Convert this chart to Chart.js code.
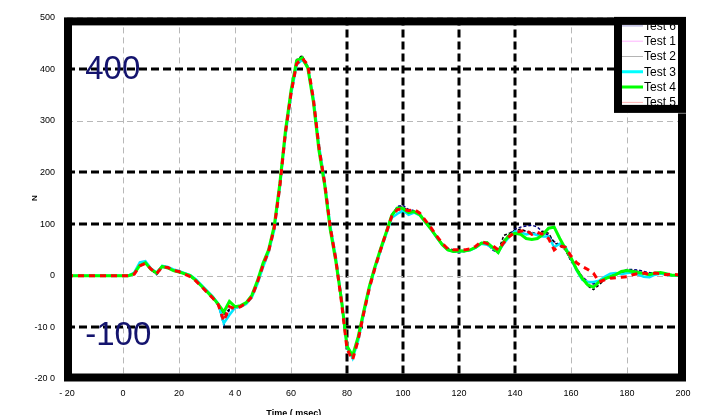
<!DOCTYPE html>
<html>
<head>
<meta charset="utf-8">
<title>Force vs time, tests 1-6</title>
<script src="https://cdn.jsdelivr.net/npm/chart.js@4.4.1/dist/chart.umd.min.js"></script>
<style>
  html, body { margin: 0; padding: 0; background: #fff; }
  #wrap { width: 702px; height: 415px; }
</style>
</head>
<body>
<div id="wrap"><canvas id="myChart" width="702" height="415"></canvas></div>
<script>
// sample times (msec)
const timeMs = [
  -20, 0, 2, 4, 6, 8, 10, 12, 14, 16,
  18, 20, 22, 24, 26, 28, 30, 32, 34, 36,
  38, 40, 42, 44, 46, 48, 50, 52, 54, 56,
  58, 60, 62, 64, 66, 68, 70, 72, 74, 76,
  78, 80, 82, 84, 86, 88, 90, 92, 94, 96,
  98, 100, 102, 104, 106, 108, 110, 112, 114, 116,
  118, 120, 122, 124, 126, 128, 130, 132, 134, 136,
  138, 140, 142, 144, 146, 148, 150, 152, 154, 156,
  158, 160, 162, 164, 166, 168, 170, 172, 174, 176,
  178, 180, 182, 184, 186, 188, 190, 192, 194, 196,
  198, 200
];

// force (N) per test
const test6 = [
  0, 0, 0, 5, 22, 26, 12, 2, 16, 16,
  10, 7, 3, -1, -9, -20, -31, -42, -56, -96,
  -66, -62, -58, -52, -40, -14, 18, 48, 94, 176,
  278, 354, 414, 424, 406, 338, 244, 176, 92, 28,
  -48, -140, -156, -118, -70, -22, 16, 50, 82, 118,
  134, 136, 128, 126, 120, 106, 92, 76, 62, 52,
  46, 45, 47, 50, 56, 64, 62, 50, 44, 68,
  80, 90, 94, 96, 98, 94, 84, 78, 66, 60,
  50, 30, 14, -2, -12, -16, -12, -6, -1, 3,
  7, 12, 12, 11, 8, 6, 5, 4, 3, 1,
  0, 0
];
const test1 = [
  0, 0, 0, 4, 20, 24, 12, 4, 17, 15,
  10, 7, 3, -1, -9, -20, -31, -42, -55, -72,
  -60, -61, -59, -53, -40, -13, 19, 48, 92, 175,
  276, 355, 413, 422, 404, 340, 246, 178, 93, 30,
  -47, -139, -157, -121, -71, -22, 16, 50, 82, 116,
  129, 130, 124, 125, 119, 105, 91, 76, 62, 52,
  49, 49, 49, 50, 55, 64, 63, 55, 48, 66,
  78, 86, 87, 85, 82, 82, 82, 79, 64, 60,
  52, 31, 15, 0, -10, -17, -14, -7, -3, 1,
  5, 8, 8, 6, 3, 3, 4, 4, 3, 1,
  1, 0
];
const test2 = [
  0, 0, 0, 4, 21, 25, 12, 3, 17, 16,
  10, 7, 3, -1, -10, -21, -32, -44, -57, -75,
  -65, -63, -60, -54, -40, -14, 18, 47, 90, 174,
  274, 356, 418, 426, 404, 340, 246, 178, 94, 30,
  -48, -140, -158, -122, -70, -22, 16, 50, 82, 116,
  132, 133, 125, 124, 119, 105, 92, 76, 62, 53,
  50, 49, 48, 49, 56, 64, 64, 54, 47, 78,
  82, 88, 90, 86, 84, 80, 86, 82, 64, 58,
  50, 28, 14, -4, -20, -27, -18, -8, -3, 1,
  6, 9, 10, 8, 4, 3, 4, 5, 3, 2,
  1, 0
];
const test3 = [
  0, 0, 0, 6, 26, 28, 14, 6, 19, 17,
  12, 9, 5, 1, -7, -18, -29, -40, -54, -92,
  -76, -62, -60, -55, -42, -16, 16, 45, 88, 170,
  270, 350, 408, 418, 404, 345, 252, 184, 98, 36,
  -44, -138, -160, -126, -74, -25, 14, 48, 80, 112,
  120, 126, 118, 122, 117, 103, 90, 74, 60, 50,
  47, 47, 48, 49, 54, 62, 60, 53, 46, 62,
  76, 86, 84, 80, 82, 78, 76, 76, 55, 62,
  56, 33, 10, -8, -12, -12, -10, -2, 4, 5,
  3, 5, 6, 2, -2, -3, 2, 4, 2, 1,
  0, 0
];
const test4 = [
  0, 0, 0, 4, 20, 25, 12, 5, 18, 15,
  10, 7, 4, 0, -9, -20, -31, -42, -55, -70,
  -50, -60, -58, -52, -38, -10, 24, 50, 96, 178,
  280, 358, 416, 422, 402, 336, 242, 176, 90, 28,
  -46, -136, -155, -118, -68, -20, 18, 52, 84, 117,
  131, 130, 122, 124, 118, 104, 90, 75, 60, 50,
  47, 48, 48, 50, 55, 63, 64, 55, 45, 66,
  78, 82, 80, 72, 70, 72, 80, 92, 94, 72,
  52, 35, 12, -5, -18, -22, -12, -6, -2, 2,
  8, 10, 8, 6, 4, 2, 5, 6, 4, 1,
  1, 0
];
const test5 = [
  0, 0, 0, 3, 19, 24, 13, 4, 17, 16,
  10, 8, 3, -2, -10, -21, -32, -43, -56, -88,
  -60, -64, -60, -53, -41, -13, 20, 47, 92, 172,
  276, 352, 410, 421, 408, 342, 248, 180, 95, 32,
  -50, -142, -163, -124, -72, -24, 15, 50, 83, 115,
  128, 129, 126, 128, 121, 107, 93, 77, 63, 52,
  50, 50, 50, 52, 57, 66, 62, 58, 50, 64,
  76, 84, 86, 88, 80, 84, 80, 72, 50, 58,
  55, 38, 25, 18, 12, 5, -12, -8, -5, -4,
  -3, -2, 2, 4, 5, 3, 5, 4, 2, 3,
  2, 1
];

// axis ticks and their printed labels
const xTicks = [-20, 0, 20, 40, 60, 80, 100, 120, 140, 160, 180, 200];
const xTickText = ['- 20', '0', '20', '4 0', '60', '80', '100', '120', '140', '160', '180', '200'];
const yTicks = [-200, -100, 0, 100, 200, 300, 400, 500];
const yTickText = ['-20 0', '-10 0', '0', '100', '200', '300', '400', '500'];

// heavy dashed reference lines
const boldX = [80, 100, 120, 140];
const boldY = [-100, 100, 200, 400];

// large marker labels
const bigLabels = ['400', '-100'];
const bigLabelAt = [400, -100];

const FONT = "'Liberation Sans', Arial, sans-serif";

const series = [
  { label: 'Test 6', values: test6, color: '#000080', width: 1.5, dash: [3, 2], legendColor: '#9c9cd0', legendWidth: 1, order: 4 },
  { label: 'Test 1', values: test1, color: '#ff80ff', width: 1, dash: [], legendColor: '#ffb4ff', legendWidth: 1, order: 5 },
  { label: 'Test 2', values: test2, color: '#000000', width: 1.5, dash: [3, 2], legendColor: '#b4b4b4', legendWidth: 1, order: 3 },
  { label: 'Test 3', values: test3, color: '#00e8ff', width: 2.5, dash: [], legendColor: '#00ffff', legendWidth: 3, order: 2 },
  { label: 'Test 4', values: test4, color: '#00ff00', width: 3, dash: [], legendColor: '#00ff00', legendWidth: 3, order: 1 },
  { label: 'Test 5', values: test5, color: '#ff0000', width: 3, dash: [6, 5], legendColor: '#ffb4b4', legendWidth: 1, order: 0 },
];

// dashed grid, thin grey plus heavy black ones
const gridLines = {
  id: 'gridLines',
  beforeDatasetsDraw(chart) {
    const { ctx, chartArea: a, scales: { x, y } } = chart;
    ctx.save();
    const line = (x1, y1, x2, y2, bold) => {
      ctx.beginPath();
      ctx.strokeStyle = bold ? '#000' : '#b8b8b8';
      ctx.lineWidth = bold ? 3 : 1;
      ctx.setLineDash(bold ? [8, 4] : [6, 4]);
      ctx.moveTo(x1, y1);
      ctx.lineTo(x2, y2);
      ctx.stroke();
    };
    xTicks.forEach(v => {
      const bold = boldX.includes(v);
      const px = Math.round(x.getPixelForValue(v)) + (bold ? 0 : 0.5);
      line(px, a.top, px, a.bottom, bold);
    });
    yTicks.forEach(v => {
      const bold = boldY.includes(v);
      const py = Math.round(y.getPixelForValue(v)) + (bold ? 0 : 0.5);
      line(a.left, py, a.right, py, bold);
    });

    // big navy numbers at the left edge
    ctx.setLineDash([]);
    ctx.fillStyle = '#14146e';
    ctx.font = '33px ' + FONT;
    ctx.textAlign = 'left';
    ctx.textBaseline = 'alphabetic';
    bigLabels.forEach((txt, i) => {
      const py = y.getPixelForValue(bigLabelAt[i]);
      ctx.fillText(txt, x.getPixelForValue(-13.5), py + (bigLabelAt[i] > 0 ? 10 : 18));
    });
    ctx.restore();
  }
};

// thick frame round the plot, x title, boxed legend
const frameAndLegend = {
  id: 'frameAndLegend',
  afterDraw(chart) {
    const { ctx, chartArea: a, scales: { x } } = chart;
    ctx.save();
    ctx.setLineDash([]);
    ctx.strokeStyle = '#000';
    ctx.lineWidth = 8;
    ctx.strokeRect(a.left + 1, a.top + 4, a.right - a.left - 2, a.bottom - a.top - 5.5);

    ctx.fillStyle = '#000';
    ctx.font = 'bold 9px ' + FONT;
    ctx.textAlign = 'center';
    ctx.textBaseline = 'alphabetic';
    ctx.fillText('Time ( msec)', x.getPixelForValue(61), 416);

    // legend box
    const bx = a.right - 69, by = a.top, bw = 72, bh = 96;
    ctx.fillStyle = '#fff';
    ctx.fillRect(bx, by, bw, bh);
    ctx.save();
    ctx.beginPath();
    ctx.rect(bx + 8, by + 7, bw - 16, bh - 15);
    ctx.clip();
    ctx.font = '12px ' + FONT;
    ctx.textAlign = 'left';
    ctx.textBaseline = 'middle';
    series.forEach((s, i) => {
      const ly = by + 8.5 + i * 15.3;
      ctx.beginPath();
      ctx.strokeStyle = s.legendColor;
      ctx.lineWidth = s.legendWidth;
      ctx.moveTo(bx + 8, ly);
      ctx.lineTo(bx + 29, ly);
      ctx.stroke();
      ctx.fillStyle = '#000';
      ctx.fillText(s.label, bx + 30, ly + 0.5);
    });
    ctx.restore();
    ctx.lineWidth = 8;
    ctx.strokeStyle = '#000';
    ctx.strokeRect(bx + 4, by + 3.5, bw - 8, bh - 8);
    ctx.restore();
  }
};

new Chart(document.getElementById('myChart'), {
  type: 'line',
  data: {
    datasets: series.map(s => ({
      label: s.label,
      data: timeMs.map((t, i) => ({ x: t, y: s.values[i] })),
      borderColor: s.color,
      borderWidth: s.width,
      borderDash: s.dash,
      pointRadius: 0,
      tension: 0,
      fill: false,
      order: s.order,
    })),
  },
  options: {
    responsive: false,
    animation: false,
    devicePixelRatio: 1,
    layout: { autoPadding: false, padding: { top: 14, right: 19, left: 0, bottom: 0 } },
    plugins: { legend: { display: false }, tooltip: { enabled: false } },
    scales: {
      x: {
        type: 'linear',
        min: -20,
        max: 200,
        afterBuildTicks: s => { s.ticks = xTicks.map(v => ({ value: v })); },
        afterFit: s => { s.height = 36; },
        grid: { display: false, drawTicks: false },
        border: { display: false },
        ticks: {
          autoSkip: false,
          maxRotation: 0,
          padding: 9,
          color: '#000',
          font: { family: FONT, size: 9 },
          callback: v => xTickText[xTicks.indexOf(v)],
        },
      },
      y: {
        min: -200,
        max: 500,
        afterBuildTicks: s => { s.ticks = yTicks.map(v => ({ value: v })); },
        afterFit: s => { s.width = 67; },
        grid: { display: false, drawTicks: false },
        border: { display: false },
        title: {
          display: true,
          text: 'N',
          color: '#000',
          font: { family: FONT, size: 8, weight: 'bold' },
          padding: { top: 30, bottom: 0 },
        },
        ticks: {
          padding: 12,
          color: '#000',
          font: { family: FONT, size: 9 },
          callback: v => yTickText[yTicks.indexOf(v)],
        },
      },
    },
  },
  plugins: [gridLines, frameAndLegend],
});
</script>
</body>
</html>
